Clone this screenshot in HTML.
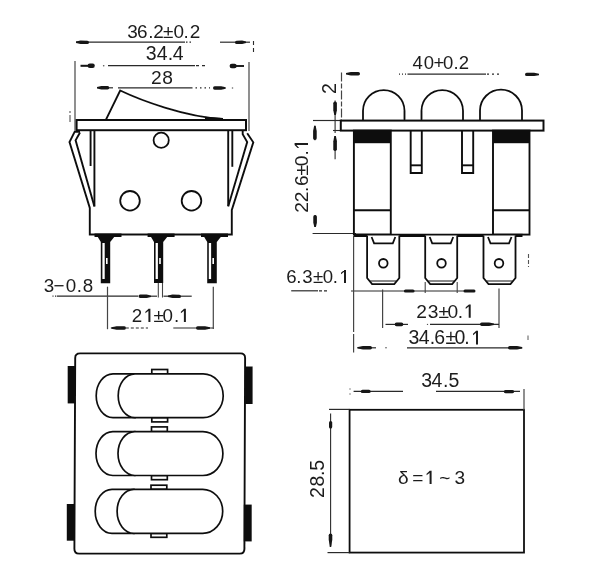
<!DOCTYPE html>
<html><head><meta charset="utf-8">
<style>
html,body{margin:0;padding:0;background:#fff;}
svg{display:block;will-change:transform;}
text{font-family:"Liberation Sans",sans-serif;}
</style></head>
<body>
<svg width="600" height="588" viewBox="0 0 600 588">
<defs><filter id="soft" x="0" y="0" width="600" height="588" filterUnits="userSpaceOnUse"><feGaussianBlur stdDeviation="0.3"/></filter></defs>
<rect x="0" y="0" width="600" height="588" fill="#fff"/>
<g filter="url(#soft)">
<g transform="translate(0,37.52)" fill="#1c1c1c">
<text x="127.28 137.04 148.27 153.35 163.00 173.56 183.57 189.75" y="0" font-size="18.93">36.2±0.2</text>
</g>
<g transform="translate(0,59.51)" fill="#1c1c1c">
<text x="145.76 156.65 167.82 172.85" y="0" font-size="19.49">34.4</text>
</g>
<g transform="translate(0,84.11)" fill="#1c1c1c">
<text x="151.03 162.17" y="0" font-size="19.21">28</text>
</g>
<line x1="76.00" y1="42.20" x2="185.00" y2="42.20" stroke="#2a2a2a" stroke-width="1.20" />
<line x1="186.00" y1="42.20" x2="193.00" y2="42.20" stroke="#2a2a2a" stroke-width="1.20" stroke-dasharray="1.5 2"/>
<line x1="220.00" y1="42.20" x2="250.00" y2="42.20" stroke="#2a2a2a" stroke-width="1.20" />
<line x1="253.50" y1="41.00" x2="253.50" y2="54.00" stroke="#2a2a2a" stroke-width="1.10" stroke-dasharray="4 3"/>
<path d="M75.99,42.95 L80.52,43.97 L87.27,44.07 A1.70,1.70 0 0 0 87.33,40.67 L80.58,40.57 L76.01,41.45 Z" fill="#151515"/>
<path d="M245.99,41.45 L242.12,40.57 L236.67,40.67 A1.70,1.70 0 0 0 236.73,44.07 L242.18,43.97 L246.01,42.95 Z" fill="#151515"/>
<line x1="108.00" y1="65.70" x2="195.00" y2="65.70" stroke="#2a2a2a" stroke-width="1.20" />
<line x1="196.00" y1="65.70" x2="208.00" y2="65.70" stroke="#2a2a2a" stroke-width="1.20" stroke-dasharray="3 3"/>
<circle cx="103.7" cy="65.7" r="0.8" fill="#555"/>
<line x1="80.50" y1="65.80" x2="90.00" y2="65.80" stroke="#151515" stroke-width="2.00" />
<line x1="89.80" y1="65.80" x2="92.60" y2="65.80" stroke="#151515" stroke-width="4.40" stroke-linecap="round"/>
<line x1="233.00" y1="66.00" x2="244.00" y2="66.00" stroke="#151515" stroke-width="1.90" />
<line x1="231.80" y1="66.00" x2="234.50" y2="66.00" stroke="#151515" stroke-width="4.40" stroke-linecap="round"/>
<line x1="75.00" y1="61.00" x2="75.00" y2="131.00" stroke="#444" stroke-width="1.20" />
<line x1="249.00" y1="62.00" x2="249.00" y2="131.00" stroke="#444" stroke-width="1.20" />
<line x1="109.00" y1="87.80" x2="113.00" y2="87.80" stroke="#2a2a2a" stroke-width="1.20" />
<line x1="118.00" y1="87.80" x2="191.00" y2="87.80" stroke="#2a2a2a" stroke-width="1.20" />
<line x1="191.00" y1="87.80" x2="210.00" y2="87.80" stroke="#2a2a2a" stroke-width="1.20" stroke-dasharray="1.5 3"/>
<path d="M97.00,88.55 L101.30,89.50 L107.60,89.50 A1.70,1.70 0 0 0 107.60,86.10 L101.30,86.10 L97.00,87.05 Z" fill="#151515"/>
<path d="M225.70,87.25 L221.25,86.30 L214.70,86.30 A1.70,1.70 0 0 0 214.70,89.70 L221.25,89.70 L225.70,88.75 Z" fill="#151515"/>
<circle cx="232.5" cy="88" r="0.8" fill="#666"/>
<line x1="70.00" y1="111.00" x2="70.00" y2="122.00" stroke="#555" stroke-width="1.10" stroke-dasharray="2 2 7 1"/>
<path d="M105.8,120 L120.2,90.5 C140,100 185,117 223,119" stroke="#111" stroke-width="1.8" fill="none"/>
<path d="M205,118 L221,119.2" stroke="#111" stroke-width="2.6" fill="none"/>
<rect x="76.6" y="120" width="169.4" height="10.2" stroke="#111" stroke-width="2" fill="#fff"/>
<g stroke="#111" stroke-width="1.9" fill="none" stroke-linejoin="miter">
<path d="M94.4,130 L94.4,206.4"/>
<path d="M90.6,130 L90.6,166"/>
<path d="M228.2,130 L228.2,206"/>
<path d="M232.3,130 L232.3,166.8"/>
<path d="M80,131.9 L74.6,131.9 L69.5,142 L89.8,208 L89.8,234.5 L231.8,234.5 L231.8,210 L253.3,142.3 L247.2,133.2"/>
<path d="M80,132.5 L75.6,140.3 L94.4,206.4"/>
<path d="M242.7,131.1 L242.7,134.2 L247.2,142 L228.2,206.4"/>
</g>
<g stroke="#111" stroke-width="1.8" fill="none">
<circle cx="161.2" cy="140.2" r="7.6"/>
<circle cx="130" cy="200.8" r="9.8"/>
<circle cx="191.5" cy="200.8" r="9.8"/>
</g>
<path d="M94.5,233.5 L121.5,233.5 L121.5,237 L114.2,237 L110.2,242 L110.2,283.3 L100.8,283.3 L100.8,242 L97.8,237 L94.5,237 Z" fill="#111"/>
<rect x="102.4" y="243" width="2.3" height="36" fill="#fff"/>
<rect x="106.0" y="258" width="1.6" height="6" fill="#fff"/>
<path d="M147.6,233.5 L174.6,233.5 L174.6,237 L167.2,237 L163.2,242 L163.2,283.0 L154.0,283.0 L154.0,242 L151.0,237 L147.6,237 Z" fill="#111"/>
<rect x="155.6" y="243" width="2.3" height="36" fill="#fff"/>
<rect x="159.2" y="258" width="1.6" height="6" fill="#fff"/>
<path d="M201.0,233.5 L228.0,233.5 L228.0,237 L220.8,237 L216.8,242 L216.8,283.3 L207.2,283.3 L207.2,242 L204.2,237 L201.0,237 Z" fill="#111"/>
<rect x="208.8" y="243" width="2.3" height="36" fill="#fff"/>
<rect x="212.4" y="258" width="1.6" height="6" fill="#fff"/>
<g transform="translate(0,291.72)" fill="#1c1c1c">
<text x="43.78 53.57 65.77 76.78 82.68" y="0" font-size="18.79">3−0.8</text>
</g>
<g transform="translate(0,321.92)" fill="#1c1c1c">
<text x="131.86 153.50 162.47 173.88" y="0" font-size="18.79">2±0.</text>
<path d="M150.40,-13.12 L150.40,0 L148.40,0 L148.40,-13.12 Z M148.60,-13.12 L148.60,-11.22 L145.40,-8.68 L145.40,-10.28 Z"/>
<path d="M185.90,-13.12 L185.90,0 L183.90,0 L183.90,-13.12 Z M184.10,-13.12 L184.10,-11.22 L180.90,-8.68 L180.90,-10.28 Z"/>
</g>
<line x1="52.50" y1="296.20" x2="56.00" y2="296.20" stroke="#2a2a2a" stroke-width="1.20" stroke-dasharray="1 1.5"/>
<line x1="56.70" y1="296.20" x2="138.00" y2="296.20" stroke="#2a2a2a" stroke-width="1.20" />
<line x1="150.80" y1="296.20" x2="157.00" y2="296.20" stroke="#2a2a2a" stroke-width="1.20" />
<line x1="163.50" y1="296.20" x2="191.70" y2="296.20" stroke="#2a2a2a" stroke-width="1.20" />
<path d="M151.00,295.45 L146.62,294.50 L140.20,294.50 A1.70,1.70 0 0 0 140.20,297.90 L146.62,297.90 L151.00,296.95 Z" fill="#151515"/>
<path d="M167.99,296.95 L172.52,297.97 L179.27,298.07 A1.70,1.70 0 0 0 179.33,294.67 L172.58,294.57 L168.01,295.45 Z" fill="#151515"/>
<line x1="107.50" y1="286.70" x2="107.50" y2="329.20" stroke="#444" stroke-width="1.20" />
<line x1="158.30" y1="283.00" x2="158.30" y2="297.50" stroke="#444" stroke-width="1.10" />
<line x1="162.50" y1="283.00" x2="162.50" y2="297.50" stroke="#444" stroke-width="1.10" />
<line x1="213.30" y1="286.70" x2="213.30" y2="329.00" stroke="#444" stroke-width="1.20" />
<line x1="110.80" y1="328.00" x2="148.00" y2="328.00" stroke="#2a2a2a" stroke-width="1.20" stroke-dasharray="3 2"/>
<line x1="173.30" y1="328.00" x2="213.30" y2="328.00" stroke="#2a2a2a" stroke-width="1.20" />
<path d="M111.50,328.75 L116.58,329.70 L124.30,329.70 A1.70,1.70 0 0 0 124.30,326.30 L116.58,326.30 L111.50,327.25 Z" fill="#151515"/>
<path d="M210.00,327.25 L205.10,326.30 L197.70,326.30 A1.70,1.70 0 0 0 197.70,329.70 L205.10,329.70 L210.00,328.75 Z" fill="#151515"/>
<g transform="translate(0,68.52)" fill="#1c1c1c">
<text x="412.58 423.78 433.60 443.03 453.61 458.77" y="0" font-size="18.50">40+0.2</text>
</g>
<line x1="399.00" y1="74.20" x2="406.00" y2="74.20" stroke="#2a2a2a" stroke-width="1.20" stroke-dasharray="1 2"/>
<line x1="407.50" y1="74.20" x2="486.00" y2="74.20" stroke="#2a2a2a" stroke-width="1.20" />
<line x1="487.00" y1="74.20" x2="502.00" y2="74.20" stroke="#2a2a2a" stroke-width="1.20" stroke-dasharray="2 3"/>
<path d="M346.00,74.55 L350.90,75.50 L358.30,75.50 A1.70,1.70 0 0 0 358.30,72.10 L350.90,72.10 L346.00,73.05 Z" fill="#151515"/>
<path d="M539.00,73.65 L534.10,72.70 L526.70,72.70 A1.70,1.70 0 0 0 526.70,76.10 L534.10,76.10 L539.00,75.15 Z" fill="#151515"/>
<line x1="341.50" y1="72.50" x2="341.50" y2="121.00" stroke="#444" stroke-width="1.20" stroke-dasharray="9 2 5 2"/>
<line x1="313.00" y1="120.50" x2="341.00" y2="120.50" stroke="#2a2a2a" stroke-width="1.20" />
<line x1="335.10" y1="100.40" x2="335.10" y2="133.00" stroke="#2a2a2a" stroke-width="1.10" />
<path d="M335.90,115.00 L336.90,110.28 L336.90,103.30 A1.80,1.80 0 0 0 333.30,103.30 L333.30,110.28 L334.30,115.00 Z" fill="#151515"/>
<line x1="333.00" y1="130.50" x2="341.00" y2="130.50" stroke="#2a2a2a" stroke-width="1.10" />
<line x1="335.10" y1="136.00" x2="335.10" y2="159.30" stroke="#2a2a2a" stroke-width="1.10" />
<path d="M334.30,136.00 L333.30,141.25 L333.30,149.20 A1.80,1.80 0 0 0 336.90,149.20 L336.90,141.25 L335.90,136.00 Z" fill="#151515"/>
<line x1="314.90" y1="125.40" x2="314.90" y2="140.20" stroke="#2a2a2a" stroke-width="1.10" />
<path d="M314.10,126.00 L313.10,130.90 L313.10,138.20 A1.80,1.80 0 0 0 316.70,138.20 L316.70,130.90 L315.70,126.00 Z" fill="#151515"/>
<line x1="315.10" y1="214.90" x2="315.10" y2="227.00" stroke="#2a2a2a" stroke-width="1.10" />
<path d="M315.90,227.00 L316.90,222.80 L316.90,216.80 A1.80,1.80 0 0 0 313.30,216.80 L313.30,222.80 L314.30,227.00 Z" fill="#151515"/>
<line x1="312.60" y1="233.50" x2="356.00" y2="233.50" stroke="#2a2a2a" stroke-width="1.20" />
<g transform="translate(336.10,0) rotate(-90)" fill="#1c1c1c">
<text x="-93.99" y="0" font-size="19.62">2</text>
</g>
<g transform="translate(308.01,0) rotate(-90)" fill="#1c1c1c">
<text x="-212.77 -202.17 -192.05 -185.88 -175.61 -166.35 -155.45" y="0" font-size="19.21">22.6±0.</text>
<path d="M-143.10,-13.41 L-143.10,0 L-145.10,0 L-145.10,-13.41 Z M-144.90,-13.41 L-144.90,-11.51 L-148.10,-8.89 L-148.10,-10.49 Z"/>
</g>
<g stroke="#111" stroke-width="1.8" fill="none">
<path d="M363.0,120.5 L363.0,110.8 A20.75,20.75 0 0 1 404.5,110.8 L404.5,120.5"/>
<path d="M421.5,120.5 L421.5,110.8 A20.75,20.75 0 0 1 463.0,110.8 L463.0,120.5"/>
<path d="M480.0,120.5 L480.0,110.6 A21.00,21.00 0 0 1 522.0,110.6 L522.0,120.5"/>
</g>
<rect x="340.8" y="120.6" width="202.7" height="10" stroke="#111" stroke-width="2" fill="#fff"/>
<g stroke="#111" stroke-width="1.9" fill="none">
<rect x="353.9" y="130.6" width="36.9" height="104"/>
<line x1="353.9" y1="210.2" x2="390.8" y2="210.2"/>
<rect x="493" y="130.6" width="36.5" height="104"/>
<line x1="493" y1="210.2" x2="529.5" y2="210.2"/>
<line x1="353.9" y1="235.4" x2="522.5" y2="235.4" stroke-width="3.4"/>
<path d="M410.7,130.6 L410.7,173 L421.8,173 L421.8,130.6"/>
<line x1="410.7" y1="165.3" x2="421.8" y2="165.3"/>
<path d="M462,130.6 L462,173 L473.2,173 L473.2,130.6"/>
<line x1="462" y1="165.3" x2="473.2" y2="165.3"/>
</g>
<rect x="353.9" y="130.6" width="36.9" height="12.6" fill="#111"/>
<rect x="493" y="130.6" width="36.5" height="12.6" fill="#111"/>
<g stroke="#111" stroke-width="1.8" fill="#fff">
<path d="M367.1,235.5 L367.1,278 L372.1,284.1 L394.3,284.1 L399.3,278 L399.3,235.5"/>
<path d="M371.6,237 L374.1,243.3 L392.8,243.3 L395.3,237"/>
<line x1="370.1" y1="281" x2="396.3" y2="281" stroke-width="1"/>
<circle cx="383.3" cy="263.3" r="4.3"/>
<path d="M425.2,235.5 L425.2,278 L430.2,284.1 L452.2,284.1 L457.2,278 L457.2,235.5"/>
<path d="M429.7,237 L432.2,243.3 L450.7,243.3 L453.2,237"/>
<line x1="428.2" y1="281" x2="454.2" y2="281" stroke-width="1"/>
<circle cx="441.5" cy="263.3" r="4.3"/>
<path d="M483.5,235.5 L483.5,278 L488.5,284.1 L510.5,284.1 L515.5,278 L515.5,235.5"/>
<path d="M488.0,237 L490.5,243.3 L509.0,243.3 L511.5,237"/>
<line x1="486.5" y1="281" x2="512.5" y2="281" stroke-width="1"/>
<circle cx="499.0" cy="263.3" r="4.3"/>
</g>
<g transform="translate(0,282.92)" fill="#1c1c1c">
<text x="286.15 296.30 302.29 313.11 322.67 332.80" y="0" font-size="18.64">6.3±0.</text>
<path d="M346.00,-13.02 L346.00,0 L344.00,0 L344.00,-13.02 Z M344.20,-13.02 L344.20,-11.12 L341.00,-8.60 L341.00,-10.20 Z"/>
</g>
<g transform="translate(0,317.81)" fill="#1c1c1c">
<text x="416.33 427.77 438.59 447.55 457.75" y="0" font-size="19.21">23±0.</text>
<path d="M470.70,-13.41 L470.70,0 L468.70,0 L468.70,-13.41 Z M468.90,-13.41 L468.90,-11.51 L465.70,-8.89 L465.70,-10.49 Z"/>
</g>
<g transform="translate(0,344.41)" fill="#1c1c1c">
<text x="408.56 418.85 429.72 434.31 445.38 454.54 464.22" y="0" font-size="19.49">34.6±0.</text>
<path d="M478.00,-13.61 L478.00,0 L476.00,0 L476.00,-13.61 Z M476.20,-13.61 L476.20,-11.71 L473.00,-9.04 L473.00,-10.64 Z"/>
</g>
<line x1="291.20" y1="290.80" x2="318.00" y2="290.80" stroke="#2a2a2a" stroke-width="1.20" />
<line x1="319.00" y1="290.80" x2="327.00" y2="290.80" stroke="#2a2a2a" stroke-width="1.20" stroke-dasharray="3 2"/>
<line x1="351.00" y1="291.00" x2="474.60" y2="291.00" stroke="#2a2a2a" stroke-width="1.20" />
<line x1="353.60" y1="236.00" x2="353.60" y2="332.00" stroke="#444" stroke-width="1.20" />
<line x1="353.60" y1="334.00" x2="353.60" y2="352.60" stroke="#444" stroke-width="1.20" />
<line x1="528.00" y1="335.50" x2="528.00" y2="340.00" stroke="#666" stroke-width="1.10" />
<line x1="382.60" y1="289.60" x2="382.60" y2="328.00" stroke="#444" stroke-width="1.20" />
<line x1="425.20" y1="282.00" x2="425.20" y2="293.00" stroke="#444" stroke-width="1.10" />
<line x1="457.20" y1="282.00" x2="457.20" y2="293.00" stroke="#444" stroke-width="1.10" />
<line x1="499.00" y1="288.50" x2="499.00" y2="328.00" stroke="#444" stroke-width="1.20" />
<line x1="385.50" y1="324.40" x2="408.00" y2="324.40" stroke="#2a2a2a" stroke-width="1.20" />
<line x1="430.00" y1="324.40" x2="499.00" y2="324.40" stroke="#2a2a2a" stroke-width="1.20" />
<circle cx="427.5" cy="324.4" r="0.7" fill="#555"/>
<line x1="357.00" y1="347.80" x2="376.00" y2="347.80" stroke="#2a2a2a" stroke-width="1.20" />
<circle cx="386" cy="347.8" r="0.8" fill="#555"/>
<line x1="407.00" y1="347.80" x2="522.40" y2="347.80" stroke="#2a2a2a" stroke-width="1.20" />
<line x1="405.50" y1="291.00" x2="413.00" y2="291.00" stroke="#151515" stroke-width="3.20" stroke-linecap="round"/>
<line x1="465.00" y1="291.00" x2="474.00" y2="291.00" stroke="#151515" stroke-width="3.00" stroke-linecap="round"/>
<line x1="396.50" y1="324.40" x2="401.50" y2="324.40" stroke="#151515" stroke-width="3.60" stroke-linecap="round"/>
<path d="M494.00,323.55 L489.10,322.60 L481.70,322.60 A1.70,1.70 0 0 0 481.70,326.00 L489.10,326.00 L494.00,325.05 Z" fill="#151515"/>
<path d="M358.00,348.55 L362.90,349.50 L370.30,349.50 A1.70,1.70 0 0 0 370.30,346.10 L362.90,346.10 L358.00,347.05 Z" fill="#151515"/>
<path d="M522.00,347.05 L517.10,346.10 L509.70,346.10 A1.70,1.70 0 0 0 509.70,349.50 L517.10,349.50 L522.00,348.55 Z" fill="#151515"/>
<line x1="528.50" y1="254.00" x2="528.50" y2="267.00" stroke="#555" stroke-width="1.10" stroke-dasharray="4 2"/>
<path d="M80,353.4 L240.5,353.4 Q245.1,353.4 245.1,358 L244.4,549 Q244.4,553.6 239.8,553.6 L79,553.6 Q74.4,553.6 74.4,549 L75.2,358 Q75.2,353.4 80,353.4 Z" stroke="#111" stroke-width="1.9" fill="#fff"/>
<rect x="67.7" y="366" width="7.5" height="37.4" fill="#111"/>
<rect x="245.1" y="366.5" width="7.5" height="37.5" fill="#111"/>
<rect x="66.8" y="504" width="7.5" height="36.7" fill="#111"/>
<rect x="243.8" y="504.6" width="7.9" height="36.8" fill="#111"/>
<g stroke="#111" stroke-width="1.7" fill="#fff">
<rect x="151.8" y="369.5" width="15.8" height="4.4"/>
<rect x="151.8" y="417.6" width="15.8" height="4.3"/>
<path d="M113.0,373.9 L135.0,373.9 L135.0,417.6 L113.0,417.6 A16.80,21.85 0 0 1 113.0,373.9 Z"/>
<path d="M135.0,373.9 L203.2,373.9 A20.00,21.85 0 0 1 203.2,417.6 L135.0,417.6 A16.80,21.85 0 0 1 135.0,373.9 Z"/>
<rect x="151.5" y="426.9" width="15.8" height="4.7"/>
<rect x="151.5" y="475.5" width="15.8" height="4.2"/>
<path d="M112.8,431.6 L134.8,431.6 L134.8,475.5 L112.8,475.5 A16.80,21.95 0 0 1 112.8,431.6 Z"/>
<path d="M134.8,431.6 L202.9,431.6 A20.00,21.95 0 0 1 202.9,475.5 L134.8,475.5 A16.80,21.95 0 0 1 134.8,431.6 Z"/>
<rect x="151.0" y="485.2" width="15.8" height="4.1"/>
<rect x="151.0" y="533.4" width="15.8" height="3.9"/>
<path d="M112.0,489.3 L133.9,489.3 L133.9,533.4 L112.0,533.4 A16.80,22.05 0 0 1 112.0,489.3 Z"/>
<path d="M133.9,489.3 L202.7,489.3 A20.00,22.05 0 0 1 202.7,533.4 L133.9,533.4 A16.80,22.05 0 0 1 133.9,489.3 Z"/>
</g>
<rect x="349.6" y="409.8" width="174.4" height="142.8" stroke="#111" stroke-width="1.8" fill="none"/>
<line x1="329.00" y1="409.40" x2="349.60" y2="409.40" stroke="#2a2a2a" stroke-width="1.20" />
<line x1="327.50" y1="552.60" x2="349.60" y2="552.60" stroke="#2a2a2a" stroke-width="1.20" />
<line x1="330.60" y1="413.60" x2="330.60" y2="546.00" stroke="#2a2a2a" stroke-width="1.10" />
<line x1="353.60" y1="391.40" x2="403.00" y2="391.40" stroke="#2a2a2a" stroke-width="1.20" />
<line x1="436.00" y1="391.40" x2="520.00" y2="391.40" stroke="#2a2a2a" stroke-width="1.20" />
<line x1="524.00" y1="389.00" x2="524.00" y2="410.00" stroke="#444" stroke-width="1.20" />
<circle cx="350" cy="389" r="0.7" fill="#666"/><circle cx="350" cy="394" r="0.7" fill="#666"/>
<line x1="362.50" y1="391.40" x2="369.00" y2="391.40" stroke="#151515" stroke-width="3.40" stroke-linecap="round"/>
<line x1="505.50" y1="391.60" x2="512.50" y2="391.60" stroke="#151515" stroke-width="3.40" stroke-linecap="round"/>
<line x1="330.60" y1="422.50" x2="330.60" y2="427.00" stroke="#151515" stroke-width="3.20" stroke-linecap="round"/>
<path d="M331.20,547.00 L332.30,539.58 L332.30,535.30 A1.80,1.80 0 0 0 328.70,535.30 L328.70,539.58 L329.80,547.00 Z" fill="#151515"/>
<g transform="translate(0,386.91)" fill="#1c1c1c">
<text x="421.26 431.55 443.02 448.42" y="0" font-size="19.49">34.5</text>
</g>
<g transform="translate(324.21,0) rotate(-90)" fill="#1c1c1c">
<text x="-498.08 -486.45 -475.88 -470.68" y="0" font-size="19.49">28.5</text>
</g>
<g transform="translate(0,484.11)" fill="#1c1c1c">
<text x="397.90 412.37 439.14 454.57" y="0" font-size="19.07">δ=~3</text>
<path d="M431.60,-13.31 L431.60,0 L429.60,0 L429.60,-13.31 Z M429.80,-13.31 L429.80,-11.41 L426.60,-8.82 L426.60,-10.42 Z"/>
</g>
</g>
</svg>
</body></html>
